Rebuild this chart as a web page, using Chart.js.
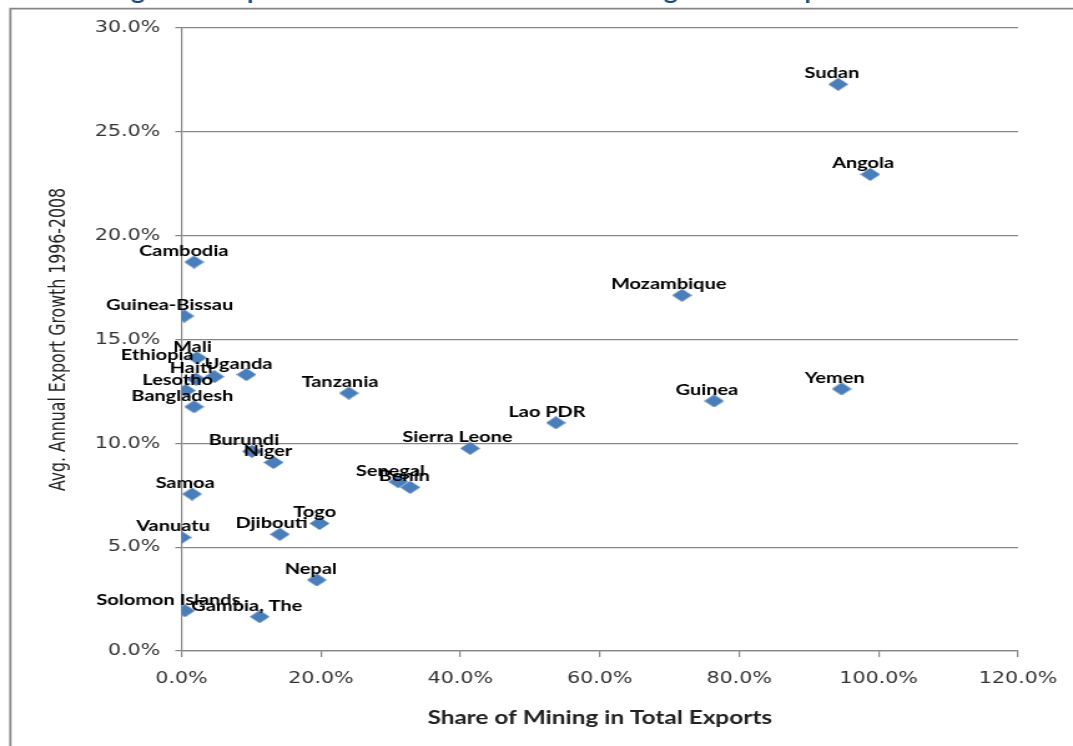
<!DOCTYPE html>
<html><head><meta charset="utf-8">
<script src="https://cdn.jsdelivr.net/npm/chart.js@4/dist/chart.umd.min.js"></script>
<style>
html,body{margin:0;padding:0;background:#fff;overflow:hidden;}
#wrap{width:860px;height:746px;transform:scaleX(1.24767);transform-origin:0 0;}
canvas{display:block;}
</style></head><body>
<div id="wrap"><canvas id="c" width="860" height="746"></canvas></div>
<script>
// ---- data ----
const countries = ['Sudan','Angola','Mozambique','Yemen','Guinea','Lao PDR','Sierra Leone','Senegal','Benin','Tanzania',
  'Cambodia','Guinea-Bissau','Mali','Ethiopia','Haiti','Uganda','Lesotho','Bangladesh','Burundi','Niger',
  'Samoa','Vanuatu','Djibouti','Togo','Nepal','Solomon Islands','Gambia, The'];
const miningShare = [94.2, 98.8, 71.8, 94.7, 76.4, 53.7, 41.4, 31.1, 32.8, 24.0,
  1.8, 0.4, 2.2, 4.7, 2.1, 9.3, 0.6, 1.8, 10.1, 13.2,
  1.5, 0.0, 14.1, 19.8, 19.4, 0.5, 11.2];
const exportGrowth = [27.29, 22.95, 17.13, 12.62, 12.04, 10.99, 9.76, 8.15, 7.88, 12.42,
  18.73, 16.13, 14.12, 13.21, 13.09, 13.31, 12.54, 11.76, 9.61, 9.08,
  7.56, 5.47, 5.62, 6.14, 3.42, 1.94, 1.65];
const xTickValues = [0, 20, 40, 60, 80, 100, 120];
const yTickValues = [0, 5, 10, 15, 20, 25, 30];
const chartTitle = 'Figure 4: Export Growth and the Share of Mining in Total Exports';
const xTitle = 'Share of Mining in Total Exports';
const yTitle = 'Avg. Annual Export Growth 1996-2008';
// manual label nudge (label moved by hand in the original)
const labelNudge = {'Ethiopia': [-39, -11]};

// ---- diamond marker ----
function makeDiamond(w, h, color) {
  const cv = document.createElement('canvas');
  cv.width = w; cv.height = h;
  const c = cv.getContext('2d');
  c.fillStyle = color;
  c.beginPath();
  c.moveTo(w / 2, 0); c.lineTo(w, h / 2); c.lineTo(w / 2, h); c.lineTo(0, h / 2);
  c.closePath(); c.fill();
  return cv;
}
const diamond = makeDiamond(16, 13, '#4A7EBB');

const GRID = '#868686';

const labelPlugin = {
  id: 'pointLabels',
  afterDatasetsDraw(chart) {
    const ctx = chart.ctx;
    const meta = chart.getDatasetMeta(0);
    ctx.save();
    ctx.font = 'bold 16px Lato';
    ctx.fillStyle = '#000';
    ctx.textAlign = 'left';
    ctx.textBaseline = 'alphabetic';
    meta.data.forEach((pt, i) => {
      const name = countries[i];
      const w = ctx.measureText(name).width;
      const n = labelNudge[name] || [0, 0];
      ctx.fillText(name, pt.x - 0.615 * w + n[0], pt.y - 6 + n[1]);
    });
    ctx.restore();
  }
};

const framePlugin = {
  id: 'frame',
  beforeDraw(chart) {
    const ctx = chart.ctx;
    ctx.save();
    ctx.fillStyle = '#fff';
    ctx.fillRect(0, 0, chart.width, chart.height);
    ctx.strokeStyle = GRID;
    ctx.lineWidth = 1.8;
    ctx.beginPath();
    ctx.moveTo(8.3, chart.height + 2);
    ctx.lineTo(8.3, 8.6);
    ctx.lineTo(chart.width + 2, 8.6);
    ctx.stroke();
    // title (mostly above the visible area)
    ctx.font = 'bold 22px Lato';
    ctx.fillStyle = '#1F497D';
    ctx.textBaseline = 'alphabetic';
    const i1 = chartTitle.indexOf('g'), i2 = chartTitle.lastIndexOf('p');
    const c1 = ctx.measureText(chartTitle.slice(0, i1)).width + ctx.measureText('g').width / 2;
    const c2 = ctx.measureText(chartTitle.slice(0, i2)).width + ctx.measureText('p').width / 2;
    const t1 = 110.6, t2 = 650.8;
    const s = (t2 - t1) / (c2 - c1);
    ctx.translate(t1 - c1 * s, -1);
    ctx.scale(s, 1);
    ctx.fillText(chartTitle, 0, 0);
    ctx.restore();
  }
};

const pct = v => Number(v).toFixed(1) + '%';
const tickFont = {family: '"DejaVu Sans", sans-serif', size: 16.5};

new Chart(document.getElementById('c'), {
  type: 'scatter',
  data: {
    datasets: [{
      label: 'Countries',
      data: countries.map((c, i) => ({x: miningShare[i], y: exportGrowth[i]})),
      pointStyle: diamond,
      backgroundColor: '#4A7EBB',
      borderColor: '#4A7EBB'
    }]
  },
  options: {
    responsive: false,
    animation: false,
    events: [],
    devicePixelRatio: 1,
    layout: {padding: {left: 0, right: 44.1, top: 28, bottom: 0}},
    plugins: {legend: {display: false}, tooltip: {enabled: false}, title: {display: false}},
    scales: {
      x: {
        type: 'linear', min: 0, max: 120,
        afterBuildTicks: sc => { sc.ticks = xTickValues.map(v => ({value: v})); },
        afterFit: sc => { sc.height = 95; },
        ticks: {callback: pct, font: tickFont, color: '#333', padding: 12, maxRotation: 0},
        grid: {drawOnChartArea: false, drawTicks: true, tickLength: 6, color: GRID, lineWidth: 1.2},
        border: {display: true, color: GRID, width: 1.2},
        title: {display: true, text: xTitle, font: {family: 'Lato, sans-serif', size: 19.5, weight: 'bold'}, color: '#222', padding: {top: 0, bottom: 16.3}}
      },
      y: {
        type: 'linear', min: 0, max: 30,
        afterBuildTicks: sc => { sc.ticks = yTickValues.map(v => ({value: v})); },
        afterFit: sc => { sc.width = 145.5; },
        ticks: {callback: pct, font: tickFont, color: '#333', padding: 12},
        grid: {drawOnChartArea: true, drawTicks: true, tickLength: 5, color: GRID, lineWidth: 1.2},
        border: {display: true, color: GRID, width: 1.2},
        title: {display: true, text: yTitle, font: {family: '"DejaVu Sans Condensed", Lato, sans-serif', size: 17.5}, color: '#222', padding: {top: 37, bottom: 0}}
      }
    }
  },
  plugins: [framePlugin, labelPlugin]
});
</script>
</body></html>
